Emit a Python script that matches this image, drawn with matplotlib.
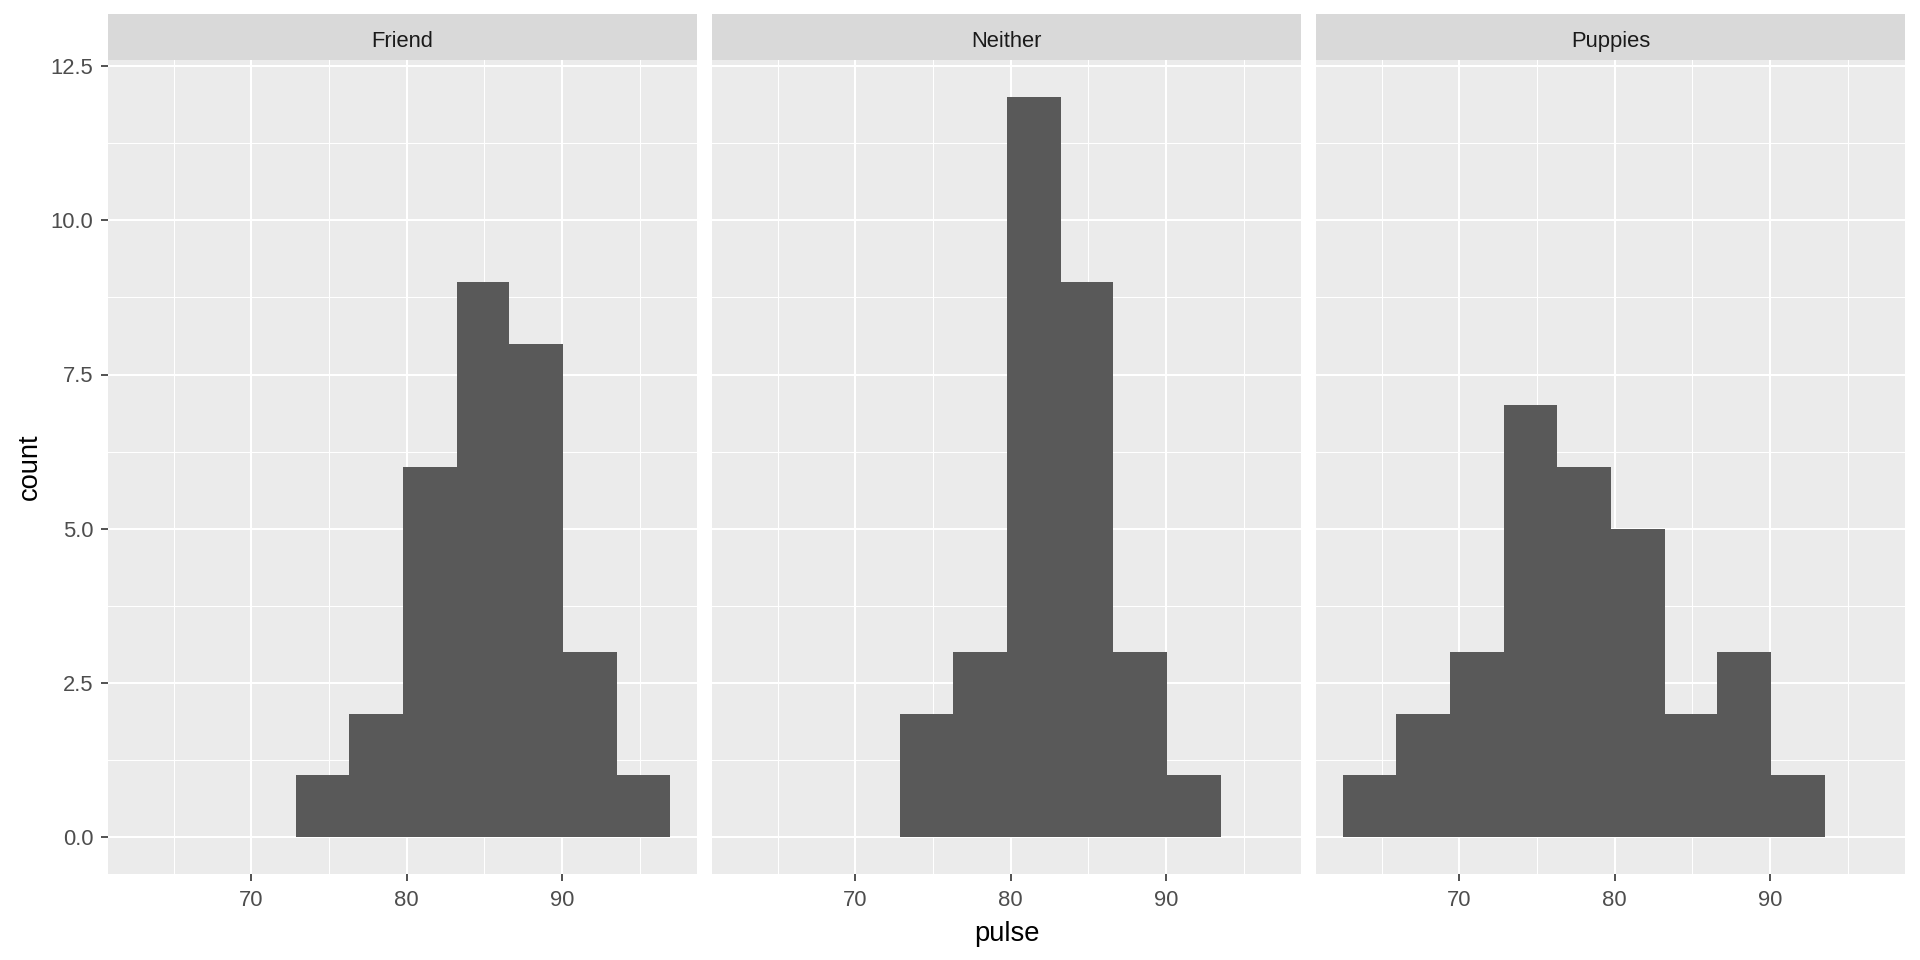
import numpy as np
import matplotlib
matplotlib.use('Agg')
from matplotlib import pyplot as plt

plt.rcParams['font.family'] = ['Liberation Sans', 'DejaVu Sans']

# Histogram bins shared by all panels
bin_edges = [62.5, 65.95, 69.4, 72.85, 76.3, 79.75, 83.2, 86.6, 90.05, 93.5, 96.95]
groups = ['Friend', 'Neither', 'Puppies']
counts_friend = [0, 0, 0, 1, 2, 6, 9, 8, 3, 1]
counts_neither = [0, 0, 0, 2, 3, 12, 9, 3, 1, 0]
counts_puppies = [1, 2, 3, 7, 6, 5, 2, 3, 1, 0]
x_ticks = [70, 80, 90]
x_minor = [65, 75, 85, 95]
y_ticks = [0.0, 2.5, 5.0, 7.5, 10.0, 12.5]
y_minor = [1.25, 3.75, 6.25, 8.75, 11.25]

W, H = 1920, 960
fig = plt.figure(figsize=(W / 100, H / 100), dpi=100)
fig.patch.set_facecolor('white')

# pixel layout of the facets
panel_x = [(108, 697), (712, 1301), (1316, 1905)]
top, bottom, strip_top = 60, 874, 14

edges = np.array(bin_edges)
span = edges[-1] - edges[0]
xlim = (edges[0] - 0.05 * span, edges[-1] + 0.05 * span)
ymax = max(max(counts_friend), max(counts_neither), max(counts_puppies))
ylim = (-0.05 * ymax, ymax * 1.05)

for i, (name, counts) in enumerate(zip(groups, [counts_friend, counts_neither, counts_puppies])):
    x0, x1 = panel_x[i]
    ax = fig.add_axes([x0 / W, 1 - bottom / H, (x1 - x0) / W, (bottom - top) / H])
    ax.set_facecolor('#EBEBEB')
    for s in ax.spines.values():
        s.set_visible(False)
    ax.bar(edges[:-1], counts, width=np.diff(edges), align='edge', color='#595959', zorder=3)
    ax.set_xlim(xlim)
    ax.set_ylim(ylim)
    ax.set_xticks(x_ticks)
    ax.set_xticks(x_minor, minor=True)
    ax.set_yticks(y_ticks)
    ax.set_yticks(y_minor, minor=True)
    ax.grid(which='major', color='white', linewidth=1.5, zorder=0)
    ax.grid(which='minor', color='white', linewidth=0.75, zorder=0)
    ax.set_axisbelow(True)
    ax.tick_params(which='major', length=4.9, width=1.2, color='#333333',
                   labelcolor='#4D4D4D', labelsize=15.8)
    ax.tick_params(axis='x', which='major', pad=6.6)
    ax.tick_params(axis='y', which='major', pad=5.5)
    ax.tick_params(which='minor', length=0)
    if i == 0:
        ax.set_yticklabels(['0.0', '2.5', '5.0', '7.5', '10.0', '12.5'])
        ax.set_ylabel('count', fontsize=19.7, color='black', labelpad=6)
    else:
        ax.tick_params(axis='y', which='major', length=0, labelleft=False)
    if i == 1:
        ax.set_xlabel('pulse', fontsize=19.7, color='black', labelpad=7)

    # facet strip
    sax = fig.add_axes([x0 / W, 1 - top / H, (x1 - x0) / W, (top - strip_top) / H])
    sax.set_facecolor('#D9D9D9')
    sax.set_xticks([])
    sax.set_yticks([])
    for s in sax.spines.values():
        s.set_visible(False)
    sax.text(0.5, 0.276, name, ha='center', va='baseline', fontsize=15.8, color='#1A1A1A',
             transform=sax.transAxes)

fig.savefig('out.png', dpi=100)
